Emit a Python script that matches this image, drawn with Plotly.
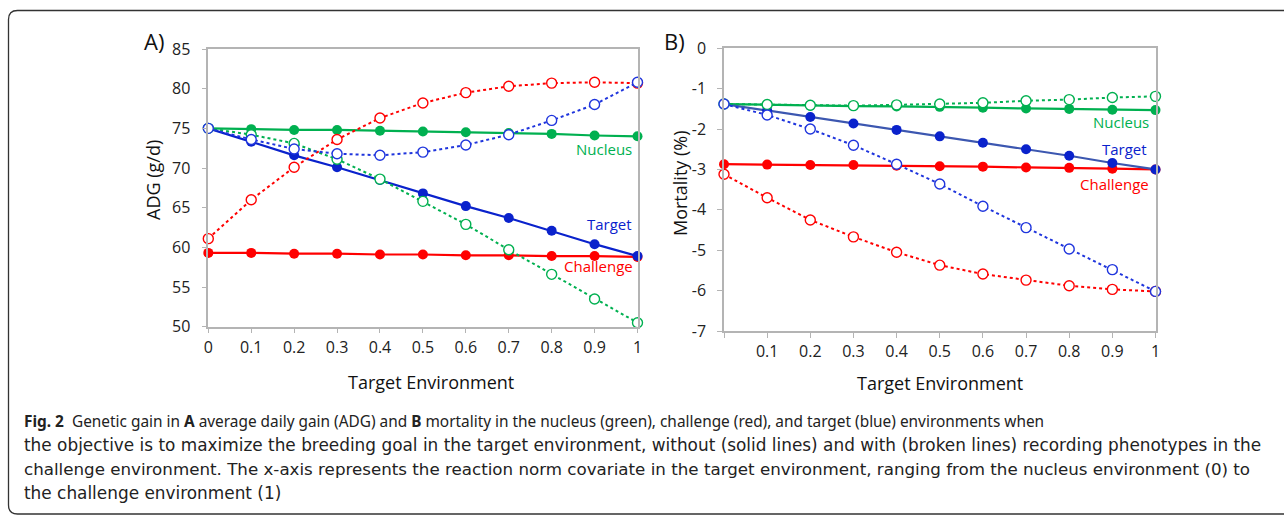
import plotly.graph_objects as go

# ---------------- data ----------------
x_env = [0, 0.1, 0.2, 0.3, 0.4, 0.5, 0.6, 0.7, 0.8, 0.9, 1]

adg_nucleus_solid = [75.0, 74.9, 74.8, 74.8, 74.7, 74.6, 74.5, 74.4, 74.3, 74.1, 74.0]
adg_challenge_solid = [59.3, 59.3, 59.2, 59.2, 59.1, 59.1, 59.0, 59.0, 58.9, 58.9, 58.8]
adg_target_solid = [75.0, 73.3, 71.6, 70.1, 68.5, 66.8, 65.2, 63.7, 62.1, 60.4, 58.9]
adg_nucleus_broken = [75.0, 74.2, 73.1, 71.1, 68.6, 65.8, 62.9, 59.7, 56.6, 53.5, 50.5]
adg_challenge_broken = [61.1, 66.0, 70.1, 73.6, 76.3, 78.2, 79.5, 80.3, 80.7, 80.8, 80.7]
adg_target_broken = [75.0, 73.6, 72.4, 71.8, 71.6, 72.0, 72.9, 74.2, 76.0, 78.0, 80.8]

mort_nucleus_solid = [-1.38, -1.40, -1.42, -1.43, -1.44, -1.45, -1.47, -1.49, -1.50, -1.52, -1.53]
mort_challenge_solid = [-2.87, -2.88, -2.89, -2.89, -2.91, -2.92, -2.93, -2.95, -2.96, -2.98, -3.00]
mort_target_solid = [-1.38, -1.54, -1.70, -1.86, -2.02, -2.18, -2.34, -2.50, -2.66, -2.84, -3.00]
mort_nucleus_broken = [-1.38, -1.39, -1.41, -1.42, -1.40, -1.38, -1.35, -1.30, -1.27, -1.22, -1.19]
mort_challenge_broken = [-3.12, -3.70, -4.25, -4.67, -5.05, -5.37, -5.59, -5.74, -5.88, -5.97, -6.02]
mort_target_broken = [-1.38, -1.65, -2.00, -2.40, -2.87, -3.36, -3.91, -4.44, -4.97, -5.48, -6.02]

x_ticks = [0, 0.1, 0.2, 0.3, 0.4, 0.5, 0.6, 0.7, 0.8, 0.9, 1]
x_ticktext_a = ["0", "0.1", "0.2", "0.3", "0.4", "0.5", "0.6", "0.7", "0.8", "0.9", "1"]
x_ticktext_b = ["", "0.1", "0.2", "0.3", "0.4", "0.5", "0.6", "0.7", "0.8", "0.9", "1"]
y_ticks_a = [50, 55, 60, 65, 70, 75, 80, 85]
y_ticks_b = [-7, -6, -5, -4, -3, -2, -1, 0]
y_ticktext_b = ["-7", "-6", "-5", "-4", "-3", "-2", "-1", "0"]

caption_lines = [
    "<b>Fig. 2</b>  Genetic gain in <b>A</b> average daily gain (ADG) and <b>B</b> mortality in the nucleus (green), challenge (red), and target (blue) environments when",
    "the objective is to maximize the breeding goal in the target environment, without (solid lines) and with (broken lines) recording phenotypes in the",
    "challenge environment. The x-axis represents the reaction norm covariate in the target environment, ranging from the nucleus environment (0) to",
    "the challenge environment (1)",
]

# ---------------- styling ----------------
W, H = 1284, 515
GREEN = "#00b050"
RED = "#ff0000"
BLUE = "#0a22cc"
BLUE_OPEN = "#1f35dd"
BLUE_LINE_B = "#3c57b0"
AXIS_GREY = "#b4b4b4"
FONT = "Open Sans, Noto Sans, DejaVu Sans, sans-serif"
CAP_FONTS = ["Noto Sans, Open Sans, sans-serif", "DejaVu Sans, sans-serif",
             "DejaVu Sans, sans-serif", "DejaVu Sans, sans-serif"]
CAP_SIZES = [15.4, 16.9, 16.7, 16.9]


def fx(px):
    return px / W


def fy(py):
    return 1 - py / H


fig = go.Figure()


def add_series(xa, ya, y, color, broken, line_color=None):
    lc = line_color or color
    if broken:
        fig.add_trace(go.Scatter(
            x=x_env, y=y, mode="lines+markers", xaxis=xa, yaxis=ya,
            line=dict(color=lc, width=2, dash="dot"),
            marker=dict(symbol="circle", size=10, color="white",
                        line=dict(color=color, width=1.4)),
            cliponaxis=False, showlegend=False, hoverinfo="x+y"))
    else:
        fig.add_trace(go.Scatter(
            x=x_env, y=y, mode="lines+markers", xaxis=xa, yaxis=ya,
            line=dict(color=lc, width=2.2),
            marker=dict(symbol="circle", size=10, color=color,
                        line=dict(color=color, width=0)),
            cliponaxis=False, showlegend=False, hoverinfo="x+y"))


# Panel A
add_series("x", "y", adg_nucleus_solid, GREEN, False)
add_series("x", "y", adg_challenge_solid, RED, False)
add_series("x", "y", adg_target_solid, BLUE, False)
add_series("x", "y", adg_nucleus_broken, GREEN, True)
add_series("x", "y", adg_challenge_broken, RED, True)
add_series("x", "y", adg_target_broken, BLUE_OPEN, True)
# Panel B
add_series("x2", "y2", mort_nucleus_solid, GREEN, False)
add_series("x2", "y2", mort_challenge_solid, RED, False)
add_series("x2", "y2", mort_target_solid, BLUE, False, line_color=BLUE_LINE_B)
add_series("x2", "y2", mort_nucleus_broken, GREEN, True)
add_series("x2", "y2", mort_challenge_broken, RED, True)
add_series("x2", "y2", mort_target_broken, BLUE_OPEN, True)

axis_common = dict(
    showline=True, mirror=True, linecolor=AXIS_GREY, linewidth=1.5,
    showgrid=False, zeroline=False, ticks="outside", ticklen=5,
    tickcolor=AXIS_GREY, tickwidth=1.2, automargin=False,
    tickfont=dict(family=FONT, size=16, color="#222222"),
    fixedrange=True,
)

fig.update_layout(
    width=W, height=H, autosize=False,
    margin=dict(l=0, r=0, t=0, b=0, pad=0),
    paper_bgcolor="white", plot_bgcolor="white",
    font=dict(family=FONT, color="#222222"),
    xaxis=dict(domain=[fx(208.3), fx(637.5)], anchor="y", range=[0, 1],
               tickmode="array", tickvals=x_ticks, ticktext=x_ticktext_a,
               ticklabelstandoff=0, **axis_common),
    yaxis=dict(domain=[fy(326.7), fy(49.0)], anchor="x", range=[50, 85],
               tickmode="array", tickvals=y_ticks_a,
               ticklabelstandoff=8, **axis_common),
    xaxis2=dict(domain=[fx(724.0), fx(1155.5)], anchor="y2", range=[0, 1],
                tickmode="array", tickvals=x_ticks, ticktext=x_ticktext_b,
                ticklabelstandoff=0, **axis_common),
    yaxis2=dict(domain=[fy(331.0), fy(48.3)], anchor="x2", range=[-7, 0],
                tickmode="array", tickvals=y_ticks_b, ticktext=y_ticktext_b,
                ticklabelstandoff=8, **axis_common),
)


def txt(text, x, y, size, color="#111", angle=0, family=FONT):
    return dict(text=text, x=fx(x), y=fy(y), xref="paper", yref="paper",
                xanchor="center", yanchor="middle", textangle=angle,
                showarrow=False, font=dict(family=family, size=size, color=color))


ann = []
# panel letters
ann.append(txt("A)", 154, 41, 22))
ann.append(txt("B)", 674, 41, 22))
# axis titles
ann.append(txt("Target Environment", 431, 382, 18))
ann.append(txt("Target Environment", 940, 383, 18))
ann.append(txt("ADG (g/d)", 153, 180, 18, angle=-90))
ann.append(txt("Mortality (%)", 680, 183, 18, angle=-90))
# series labels
lab_font = 15


def lab(text, y, xr, yr, color, shift):
    return dict(text=text, x=1, y=y, xref=xr, yref=yr, xanchor="right", yanchor="middle",
                xshift=shift, showarrow=False, font=dict(family=FONT, size=lab_font, color=color))


ann.append(lab("Nucleus", 72.4, "x", "y", GREEN, -4))
ann.append(lab("Target", 63.0, "x", "y", BLUE, -4))
ann.append(lab("Challenge", 57.6, "x", "y", RED, -3))
ann.append(lab("Nucleus", -1.82, "x2", "y2", GREEN, -5))
ann.append(lab("Target", -2.49, "x2", "y2", BLUE, -7))
ann.append(lab("Challenge", -3.36, "x2", "y2", RED, -5))
# caption (each line placed where the reference puts it)
cap_y = [421, 445, 469, 493]
for line, cy, cf, cs in zip(caption_lines, cap_y, CAP_FONTS, CAP_SIZES):
    ann.append(dict(text=line, x=fx(22), y=fy(cy), xref="paper", yref="paper",
                    xanchor="left", yanchor="middle", showarrow=False, align="left",
                    font=dict(family=cf, size=cs, color="#222222")))
fig.update_layout(annotations=ann)

# rounded frame border
x0, y0, y1, x1, r = 8.5, 10.5, 514.0, 1300.0, 9.0
path = (f"M {fx(x1)},{fy(y0)} L {fx(x0 + r)},{fy(y0)} "
        f"Q {fx(x0)},{fy(y0)} {fx(x0)},{fy(y0 + r)} "
        f"L {fx(x0)},{fy(y1 - r)} Q {fx(x0)},{fy(y1)} {fx(x0 + r)},{fy(y1)} "
        f"L {fx(x1)},{fy(y1)}")
fig.add_shape(type="path", path=path, xref="paper", yref="paper",
              line=dict(color="#333333", width=1.3), layer="above")

fig.write_html("out.html", config={"displayModeBar": False},
               post_script="document.body.style.margin='0';document.body.style.overflow='hidden';")
